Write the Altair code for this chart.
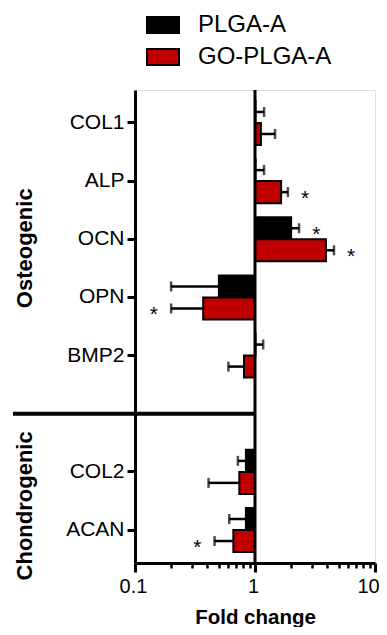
import altair as alt
import pandas as pd

genes = ["COL1", "ALP", "OCN", "OPN", "BMP2", "COL2", "ACAN"]
slots = ["COL1", "ALP", "OCN", "OPN", "BMP2", " ", "COL2", "ACAN"]
series = ["PLGA-A", "GO-PLGA-A"]
colors = ["#000000", "#C00000"]

plga_val = [1.01, 1.01, 2.0, 0.5, 1.01, 0.84, 0.84]
plga_err = [1.19, 1.19, 2.33, 0.2, 1.17, 0.72, 0.61]
plga_sig = [0, 0, 1, 0, 0, 0, 0]

go_val = [1.12, 1.65, 3.9, 0.37, 0.81, 0.74, 0.66]
go_err = [1.47, 1.88, 4.55, 0.2, 0.6, 0.41, 0.46]
go_sig = [0, 1, 1, 1, 0, 0, 1]

x_ticks = [0.1, 0.2, 0.3, 0.4, 0.5, 0.6, 0.7, 0.8, 0.9, 1,
           2, 3, 4, 5, 6, 7, 8, 9, 10]

rows = []
for i, g in enumerate(genes):
    rows.append({"gene": g, "series": series[0], "val": plga_val[i],
                 "err": plga_err[i], "sig": plga_sig[i]})
    rows.append({"gene": g, "series": series[1], "val": go_val[i],
                 "err": go_err[i], "sig": go_sig[i]})
df = pd.DataFrame(rows)

FONT = "Liberation Sans"
W, H = 240, 473

y_enc = alt.Y("gene:N", scale=alt.Scale(domain=slots, paddingInner=0, paddingOuter=0.067),
              axis=alt.Axis(values=genes, title=None, labelFontSize=21, labelColor="black",
                            tickSize=8, tickWidth=3, tickColor="black", domainWidth=3,
                            domainColor="black", labelPadding=3, labelFont=FONT))
yoff = alt.YOffset("series:N", scale=alt.Scale(domain=series, paddingInner=0, paddingOuter=0.32))

major = "datum.value == 0.1 || datum.value == 1 || datum.value == 10"
x_axis = alt.Axis(values=x_ticks,
                  labelExpr="datum.value == 0.1 ? '0.1' : datum.value == 1 ? '1' : datum.value == 10 ? '10' : ''",
                  tickSize={"condition": {"test": major, "value": 9}, "value": 5},
                  tickWidth={"condition": {"test": major, "value": 3}, "value": 2.5},
                  labelOffset={"condition": {"test": "datum.value == 10", "value": -7}, "value": -2},
                  labelFlush=False,
                  tickColor="black", domainColor="black", domainWidth=3,
                  labelFontSize=20, labelColor="black", labelFont=FONT, labelPadding=4,
                  title="Fold change", titleFontSize=20.5, titleFontWeight="bold",
                  titleFont=FONT, titleColor="black", titleBaseline="alphabetic",
                  titleY=60, grid=False)
x_scale = alt.Scale(type="log", domain=[0.1, 10], nice=False)

base = alt.Chart(df)

bars = base.mark_bar(stroke="black", strokeWidth=2).encode(
    x=alt.X("val:Q", scale=x_scale, axis=x_axis),
    x2=alt.datum(1),
    y=y_enc,
    yOffset=yoff,
    color=alt.Color("series:N", scale=alt.Scale(domain=series, range=colors),
                    legend=alt.Legend(title=None, orient="none", legendX=11, legendY=-82,
                                      symbolType="M-1,-0.5H1V0.5H-1Z", symbolSize=1024,
                                      symbolStrokeColor="black", symbolStrokeWidth=2,
                                      labelFontSize=24, labelFont=FONT, labelColor="black",
                                      labelOffset=18, rowPadding=3, padding=0)),
)

err_rule = base.mark_rule(color="black", strokeWidth=2.5).encode(
    x=alt.X("val:Q", scale=x_scale),
    x2="err:Q",
    y=alt.Y("gene:N"),
    yOffset=yoff,
)

err_cap = base.mark_tick(color="black", thickness=2.5, size=10).encode(
    x=alt.X("err:Q", scale=x_scale),
    y=alt.Y("gene:N"),
    yOffset=yoff,
)

stars = base.transform_filter("datum.sig == 1").transform_calculate(
    sx="datum.err > datum.val ? datum.err * 1.39 : datum.err / 1.39"
).mark_text(text="*", fontSize=21, font=FONT, color="black", dy=7,
            align="center", baseline="middle").encode(
    x=alt.X("sx:Q", scale=x_scale),
    y=alt.Y("gene:N"),
    yOffset=yoff,
)

one_line = alt.Chart(pd.DataFrame({"v": [1]})).mark_rule(color="black", strokeWidth=3).encode(
    x=alt.X("v:Q", scale=x_scale)
)

sep = alt.Chart(pd.DataFrame({"gene": [" "]})).mark_rule(color="black", strokeWidth=4).encode(
    y=alt.Y("gene:N"),
    x=alt.datum(1),
    x2=alt.value(-122),
)

grp1 = alt.Chart(pd.DataFrame({"gene": ["OCN"], "t": ["Osteogenic"]})).mark_text(
    angle=270, fontSize=22, fontWeight="bold", font=FONT, color="black",
    align="center", baseline="middle", dx=-9
).encode(y=alt.Y("gene:N"), x=alt.value(-110), text="t:N")

grp2 = alt.Chart(pd.DataFrame({"gene": ["COL2"], "t": ["Chondrogenic"]})).mark_text(
    angle=270, fontSize=22, fontWeight="bold", font=FONT, color="black",
    align="center", baseline="middle", dx=-34
).encode(y=alt.Y("gene:N"), x=alt.value(-110), text="t:N")

chart = alt.layer(bars, err_rule, err_cap, stars, one_line, sep, grp1, grp2).properties(
    width=W, height=H,
    autosize=alt.AutoSizeParams(type="none"),
    padding={"left": 127, "top": 82, "right": 4, "bottom": 64},
).configure_view(stroke=None).configure(font=FONT)

chart.save("out.html", embed_options={"renderer": "svg", "actions": False})
